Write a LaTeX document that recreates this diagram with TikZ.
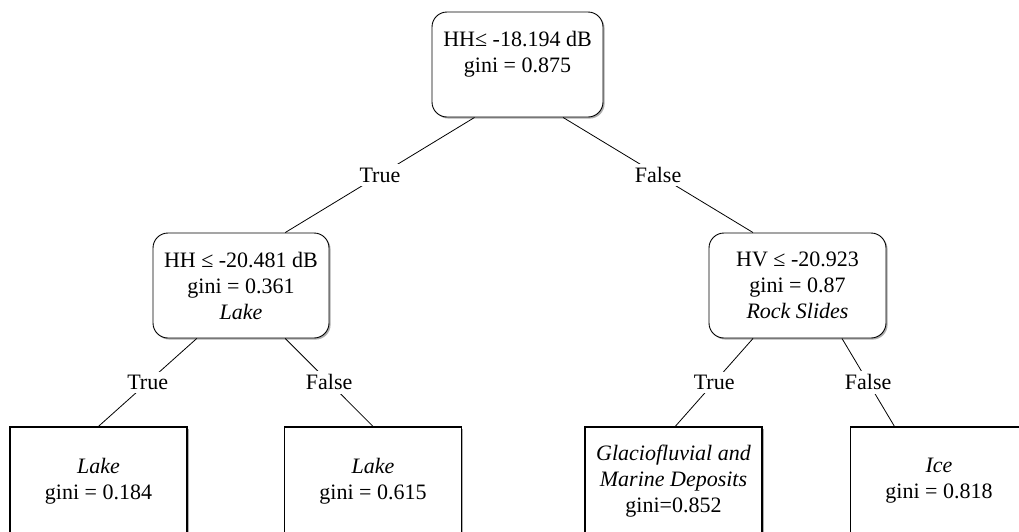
\documentclass[tikz,border=0pt]{standalone}
\usepackage{fontspec}
\setmainfont{Liberation Serif}
\usetikzlibrary{shadows,calc}

\begin{document}
\begin{tikzpicture}[
    x=1pt, y=-1pt,
    every node/.style={font=\fontsize{22}{26}\selectfont, align=center},
    boxshadow/.style={drop shadow={shadow xshift=1.6pt, shadow yshift=-1.6pt,
        fill=black!45, opacity=0.7}},
    splitbox/.style={draw, line width=0.9pt, rounded corners=15pt, fill=white,
        boxshadow, inner sep=0pt},
    leafbox/.style={draw, line width=1.3pt, fill=white, boxshadow,
        minimum width=177pt, minimum height=108pt, inner sep=0pt},
    branch/.style={line width=0.8pt},
    answer/.style={fill=white, inner sep=3.5pt}
]
  % page frame
  \path[use as bounding box, fill=white] (0,0) rectangle (1019,531);
  \clip (0,0) rectangle (1019,531);

  % split nodes
  \node[splitbox, minimum width=171pt, minimum height=105pt] (root) at (517.5,64.5)
    {HH≤ -18.194 dB\\gini = 0.875\\\mbox{}};
  \node[splitbox, minimum width=176pt, minimum height=105pt] (hh) at (241,285.5)
    {HH ≤ -20.481 dB\\gini = 0.361\\\textit{Lake}};
  \node[splitbox, minimum width=177pt, minimum height=105pt] (hv) at (797.5,285.5)
    {HV ≤ -20.923\\gini = 0.87\\\textit{Rock Slides}};

  % leaves
  \node[leafbox] (lake1) at (98.5,481)  {\textit{Lake}\\gini = 0.184};
  \node[leafbox] (lake2) at (373,481)   {\textit{Lake}\\gini = 0.615};
  \node[leafbox] (glac)  at (673.5,481) {\textit{Glaciofluvial and}\\\textit{Marine Deposits}\\gini=0.852};
  \node[leafbox] (ice)   at (939,481)   {\textit{Ice}\\gini = 0.818};

  % branches with their answers
  \draw[branch] ($(root.south west)!0.25!(root.south east)$)
      -- node[answer] {True} ($(hh.north west)!0.75!(hh.north east)$);
  \draw[branch] ($(root.south west)!0.765!(root.south east)$)
      -- node[answer] {False} ($(hv.north west)!0.25!(hv.north east)$);

  \draw[branch] ($(hh.south west)!0.25!(hh.south east)$)
      -- node[answer] {True} (lake1.north);
  \draw[branch] ($(hh.south west)!0.75!(hh.south east)$)
      -- node[answer] {False} (lake2.north);

  \draw[branch] ($(hv.south west)!0.25!(hv.south east)$)
      -- node[answer] {True} ($(glac.north west)!0.51!(glac.north east)$);
  \draw[branch] ($(hv.south west)!0.75!(hv.south east)$)
      -- node[answer] {False} ($(ice.north west)!0.25!(ice.north east)$);
\end{tikzpicture}
\end{document}
